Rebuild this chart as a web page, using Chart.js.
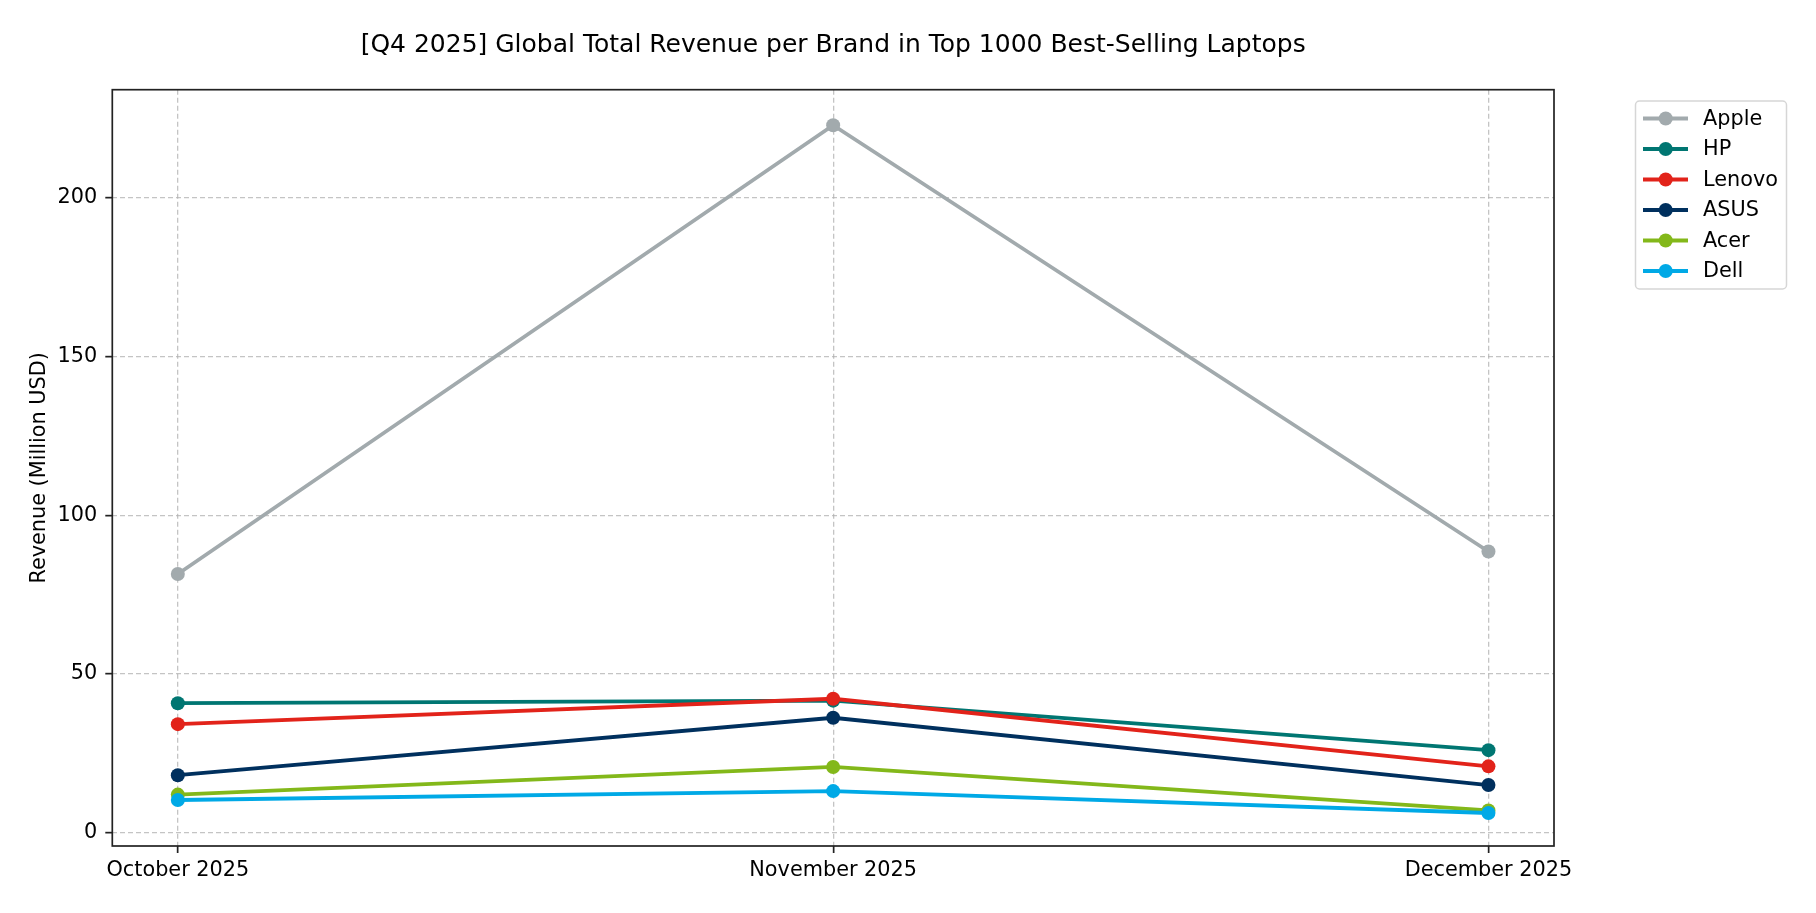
<!DOCTYPE html>
<html>
<head>
<meta charset="utf-8">
<script src="https://cdn.jsdelivr.net/npm/chart.js@4.4.0/dist/chart.umd.min.js"></script>
<style>
  body { margin: 0; background: #fff; }
  canvas { display: block; }
</style>
</head>
<body>
<canvas id="myChart" width="1816" height="913"></canvas>
<script>
const months = ["October 2025", "November 2025", "December 2025"];
const yTicks = [0, 50, 100, 150, 200];

const brands = ["Apple", "HP", "Lenovo", "ASUS", "Acer", "Dell"];
const brandColors = ["#a2aaad", "#007672", "#e2231a", "#00305e", "#83b81a", "#00a9e6"];

const apple = [81.5, 222.9, 88.6];
const hp = [40.8, 41.6, 26.0];
const lenovo = [34.2, 42.2, 20.9];
const asus = [18.1, 36.2, 15.0];
const acer = [12.0, 20.7, 7.0];
const dell = [10.3, 13.1, 6.2];

const series = [apple, hp, lenovo, asus, acer, dell];

const FONT = "'DejaVu Sans', sans-serif";

const datasets = series.map((vals, i) => ({
  label: brands[i],
  data: vals.map((v, j) => ({ x: j, y: v })),
  borderColor: brandColors[i],
  backgroundColor: brandColors[i],
  pointBackgroundColor: brandColors[i],
  pointBorderColor: brandColors[i],
  borderWidth: 3.8,
  pointRadius: 7,
  pointBorderWidth: 0,
  tension: 0,
  fill: false,
  order: series.length - i // later brands drawn on top, like matplotlib
}));

// title, axes frame and a matplotlib-like legend
const decor = {
  id: 'decor',
  afterDraw(chart) {
    const ctx = chart.ctx;
    const a = chart.chartArea;
    ctx.save();

    // frame
    ctx.strokeStyle = '#222';
    ctx.lineWidth = 1.7;
    ctx.strokeRect(a.left, a.top, a.right - a.left, a.bottom - a.top);

    // title
    ctx.fillStyle = '#000';
    ctx.font = "25px " + FONT;
    ctx.textAlign = 'center';
    ctx.textBaseline = 'alphabetic';
    ctx.fillText("[Q4 2025] Global Total Revenue per Brand in Top 1000 Best-Selling Laptops",
      (a.left + a.right) / 2, 51.5);

    // legend box
    const bx = 1635.5, by = 101, bw = 151, bh = 188;
    ctx.beginPath();
    ctx.roundRect(bx, by, bw, bh, 4);
    ctx.fillStyle = 'rgba(255,255,255,0.8)';
    ctx.fill();
    ctx.strokeStyle = 'rgba(204,204,204,0.8)';
    ctx.lineWidth = 1.5;
    ctx.stroke();

    chart.data.datasets.forEach((ds, i) => {
      const y = 118.5 + i * 30.5;
      ctx.strokeStyle = ds.borderColor;
      ctx.lineWidth = 3.8;
      ctx.beginPath();
      ctx.moveTo(1643, y);
      ctx.lineTo(1688, y);
      ctx.stroke();
      ctx.fillStyle = ds.borderColor;
      ctx.beginPath();
      ctx.arc(1665.7, y, 7, 0, Math.PI * 2);
      ctx.fill();
      ctx.fillStyle = '#000';
      ctx.font = "20.8px " + FONT;
      ctx.textAlign = 'left';
      ctx.textBaseline = 'middle';
      ctx.fillText(ds.label, 1703, y + 1);
    });
    ctx.restore();
  }
};

const gridColor = 'rgba(176,176,176,0.75)';

const config = {
  type: 'line',
  data: { datasets: datasets },
  options: {
    responsive: false,
    animation: false,
    layout: { padding: { top: 89.7, right: 262, bottom: 0, left: 0 } },
    plugins: {
      legend: { display: false },
      title: { display: false },
      tooltip: { enabled: false }
    },
    scales: {
      x: {
        type: 'linear',
        min: -0.1,
        max: 2.1,
        afterBuildTicks: (scale) => { scale.ticks = months.map((m, i) => ({ value: i })); },
        afterFit: (scale) => { scale.height = 67; },
        ticks: {
          callback: (value) => months[value],
          color: '#000',
          font: { family: FONT, size: 20.8 },
          padding: 5,
          maxRotation: 0,
          autoSkip: false
        },
        grid: {
          color: gridColor,
          lineWidth: 1.3,
          tickColor: '#222',
          tickWidth: 1.7,
          tickLength: 7
        },
        border: { display: false, dash: [5, 3] }
      },
      y: {
        min: -4.2,
        max: 234.1,
        afterBuildTicks: (scale) => { scale.ticks = yTicks.map(v => ({ value: v })); },
        afterFit: (scale) => { scale.width = 112.3; },
        ticks: {
          color: '#000',
          font: { family: FONT, size: 20.8 },
          padding: 8
        },
        grid: {
          color: gridColor,
          lineWidth: 1.3,
          tickColor: '#222',
          tickWidth: 1.7,
          tickLength: 7
        },
        border: { display: false, dash: [5, 3] },
        title: {
          display: true,
          text: 'Revenue (Million USD)',
          color: '#000',
          font: { family: FONT, size: 20.8 },
          padding: { top: 27, bottom: 0 }
        }
      }
    }
  },
  plugins: [decor]
};

const ctx = document.getElementById('myChart').getContext('2d');
const myChart = new Chart(ctx, config);
</script>
</body>
</html>
